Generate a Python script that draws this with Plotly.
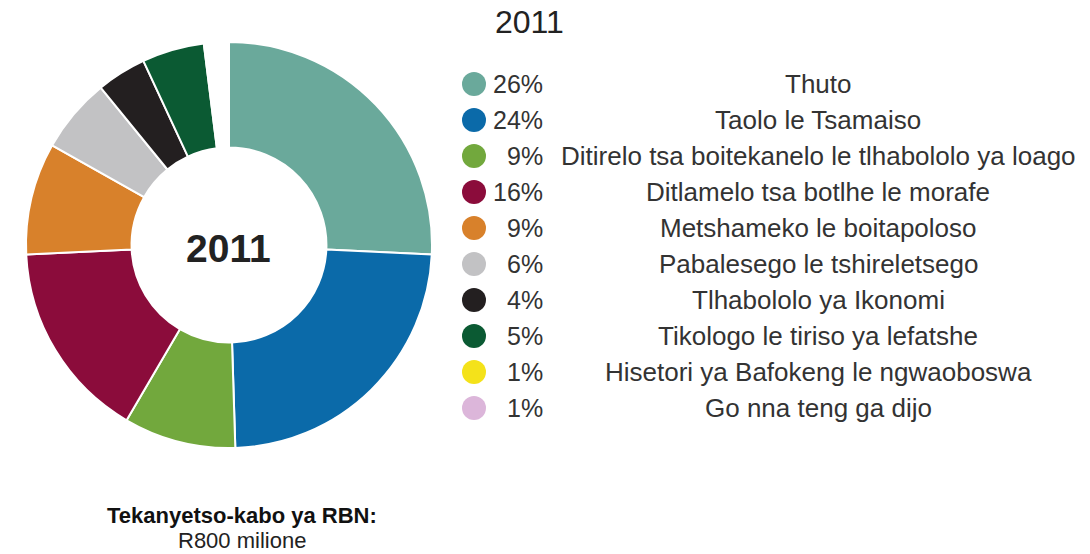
"""Donut chart: RBN budget allocation 2011 (Setswana labels)."""

import plotly.graph_objects as go

YEAR = "2011"
CATEGORIES = [
    "Thuto",
    "Taolo le Tsamaiso",
    "Ditirelo tsa boitekanelo le tlhabololo ya loago",
    "Ditlamelo tsa botlhe le morafe",
    "Metshameko le boitapoloso",
    "Pabalesego le tshireletsego",
    "Tlhabololo ya Ikonomi",
    "Tikologo le tiriso ya lefatshe",
    "Hisetori ya Bafokeng le ngwaoboswa",
    "Go nna teng ga dijo",
]
SHARES = [26, 24, 9, 16, 9, 6, 4, 5, 1, 1]
COLORS = [
    "#6aa99b", "#0b6aa9", "#72a83d", "#8b0c3b", "#d8812b",
    "#c2c2c4", "#231f20", "#0b5a33", "#f4e21a", "#dcb6da",
]
# the two 1% slices show up as a blank gap in the ring of the original
SLICE_COLORS = COLORS[:8] + ["white", "white"]
BUDGET_LABEL = "Tekanyetso-kabo ya RBN:"
BUDGET_VALUE = "R800 milione"

# page body has an 8px margin, so the figure is drawn in a 1082x546 box
OFF = 8
W, H = 1090 - OFF, 554 - OFF
FONT = "Liberation Sans, Arial, sans-serif"


def px_x(v):
    return (v - OFF) / W


def px_y(v):
    return 1 - (v - OFF) / H


fig = go.Figure()
fig.add_trace(
    go.Pie(
        values=SHARES,
        labels=CATEGORIES,
        hole=0.48,
        sort=False,
        direction="clockwise",
        rotation=0,
        textinfo="none",
        marker=dict(colors=SLICE_COLORS, line=dict(color="white", width=2)),
        domain=dict(x=[px_x(25), px_x(433)], y=[px_y(448), px_y(42)]),
        showlegend=False,
    )
)

# custom legend: coloured dots, right-aligned percentages, centred labels
row_y = [84 + i * 36 for i in range(len(CATEGORIES))]
fig.add_trace(
    go.Scatter(
        x=[474] * len(CATEGORIES),
        y=row_y,
        mode="markers",
        marker=dict(size=24, color=COLORS),
        showlegend=False,
        hoverinfo="skip",
    )
)
for y, share, name in zip(row_y, SHARES, CATEGORIES):
    fig.add_annotation(x=545, y=y, text=f"{share}%", xanchor="right", showarrow=False,
                       font=dict(size=25, color="#333"))
    fig.add_annotation(x=818, y=y, text=name, xanchor="center",
                       showarrow=False, font=dict(size=26, color="#333"))

fig.add_annotation(x=529, y=22, text=YEAR, showarrow=False, font=dict(size=32, color="#222"))
fig.add_annotation(x=228, y=248, text=f"<b>{YEAR}</b>", showarrow=False,
                   font=dict(size=39, color="#222"))
fig.add_annotation(x=242, y=515, text=f"<b>{BUDGET_LABEL}</b>", showarrow=False,
                   font=dict(size=22, color="#111"))
fig.add_annotation(x=242, y=540, text=BUDGET_VALUE, showarrow=False,
                   font=dict(size=22, color="#222"))

fig.update_layout(
    width=W,
    height=H,
    margin=dict(l=0, r=0, t=0, b=0),
    paper_bgcolor="white",
    plot_bgcolor="rgba(0,0,0,0)",
    font=dict(family=FONT),
    xaxis=dict(range=[OFF, OFF + W], visible=False, domain=[0, 1], fixedrange=True),
    yaxis=dict(range=[OFF + H, OFF], visible=False, domain=[0, 1], fixedrange=True),
)
fig.write_html("out.html")
